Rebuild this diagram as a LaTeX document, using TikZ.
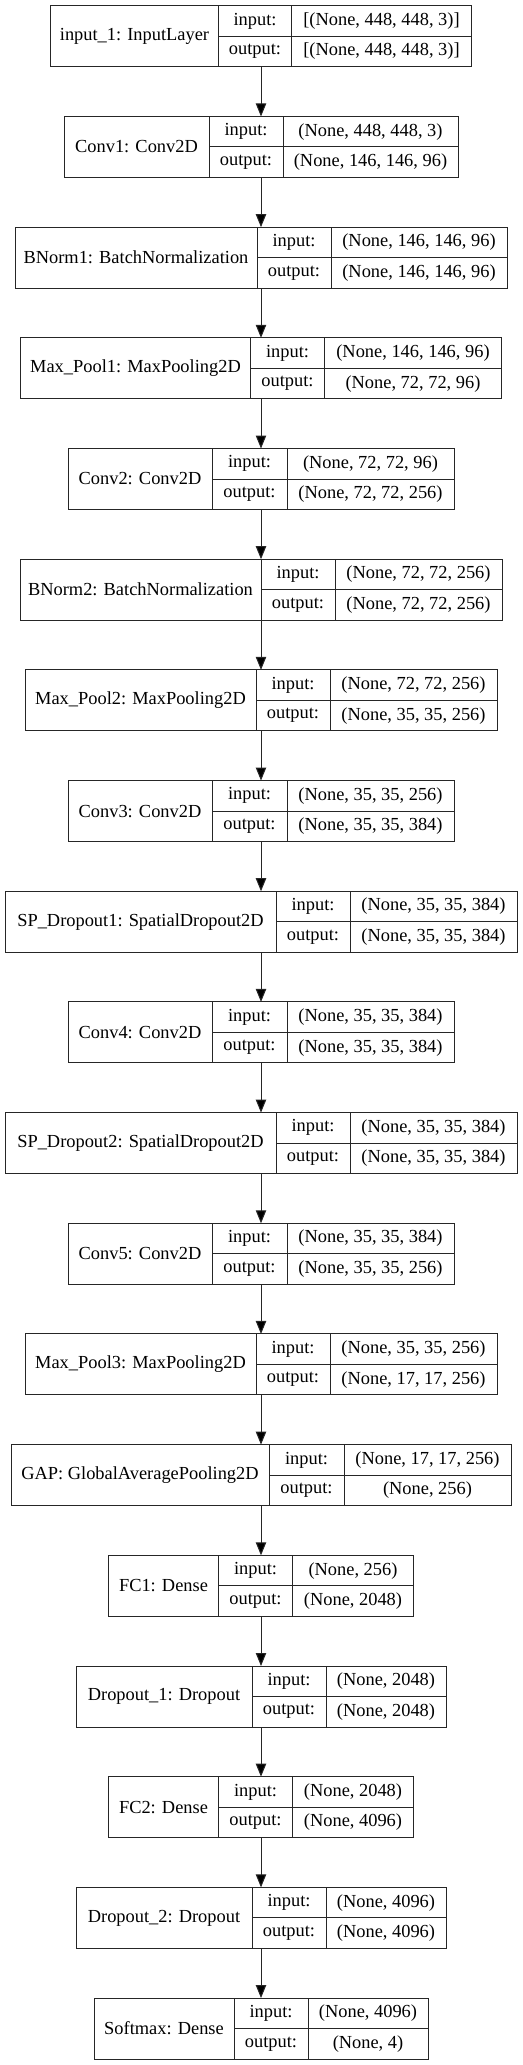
\documentclass[tikz,border=0pt]{standalone}
\usepackage{fontspec}
\setmainfont{Liberation Serif}
\usetikzlibrary{arrows.meta}
\begin{document}
\begin{tikzpicture}[x=0.75pt,y=-0.75pt,
 font=\fontsize{13.8}{16}\selectfont,
 >={Triangle[length=9.75pt,width=7.8pt]},
 line width=0.75pt,
 layer/.style={inner sep=0pt,outer sep=0pt,anchor=north west,minimum height=45.75pt},
 cell/.style={layer,draw=black!85,minimum height=#1},
 cell/.default=22.875pt]

  \useasboundingbox (0,0) rectangle (523,2065);

  % name / cell widths (px) / input / output
  \foreach \n/\lbl/\wa/\wb/\wc/\vin/\vout [count=\i from 0] in {
   input/{input\_1: InputLayer}/168/73/180/{[(None, 448, 448, 3)]}/{[(None, 448, 448, 3)]},
   conv1/{Conv1: Conv2D}/145/74/175/{(None, 448, 448, 3)}/{(None, 146, 146, 96)},
   bnorm1/{BNorm1: BatchNormalization}/242/74/176/{(None, 146, 146, 96)}/{(None, 146, 146, 96)},
   pool1/{Max\_Pool1: MaxPooling2D}/230/74/177/{(None, 146, 146, 96)}/{(None, 72, 72, 96)},
   conv2/{Conv2: Conv2D}/144/75/167/{(None, 72, 72, 96)}/{(None, 72, 72, 256)},
   bnorm2/{BNorm2: BatchNormalization}/241/74/167/{(None, 72, 72, 256)}/{(None, 72, 72, 256)},
   pool2/{Max\_Pool2: MaxPooling2D}/231/74/167/{(None, 72, 72, 256)}/{(None, 35, 35, 256)},
   conv3/{Conv3: Conv2D}/144/75/167/{(None, 35, 35, 256)}/{(None, 35, 35, 384)},
   spdrop1/{SP\_Dropout1: SpatialDropout2D}/271/74/167/{(None, 35, 35, 384)}/{(None, 35, 35, 384)},
   conv4/{Conv4: Conv2D}/144/75/167/{(None, 35, 35, 384)}/{(None, 35, 35, 384)},
   spdrop2/{SP\_Dropout2: SpatialDropout2D}/271/74/167/{(None, 35, 35, 384)}/{(None, 35, 35, 384)},
   conv5/{Conv5: Conv2D}/144/75/167/{(None, 35, 35, 384)}/{(None, 35, 35, 256)},
   pool3/{Max\_Pool3: MaxPooling2D}/231/74/167/{(None, 35, 35, 256)}/{(None, 17, 17, 256)},
   gap/{GAP: GlobalAveragePooling2D}/258/75/167/{(None, 17, 17, 256)}/{(None, 256)},
   fc1/{FC1: Dense}/110/74/121/{(None, 256)}/{(None, 2048)},
   drop1/{Dropout\_1: Dropout}/176/74/120/{(None, 2048)}/{(None, 2048)},
   fc2/{FC2: Dense}/110/74/121/{(None, 2048)}/{(None, 4096)},
   drop2/{Dropout\_2: Dropout}/176/74/120/{(None, 4096)}/{(None, 4096)},
   softmax/{Softmax: Dense}/140/74/120/{(None, 4096)}/{(None, 4)}} {
   \pgfmathsetmacro\yt{5.8+110.68*\i}
   \pgfmathsetmacro\xa{261-(\wa+\wb+\wc)/2}
   \pgfmathsetmacro\xb{\xa+\wa}
   \pgfmathsetmacro\xc{\xb+\wb}
   \pgfmathsetmacro\pw{(\wa+\wb+\wc)*0.75}
   \pgfmathsetmacro\pa{\wa*0.75}
   \pgfmathsetmacro\pb{\wb*0.75}
   \pgfmathsetmacro\pc{\wc*0.75}
   \node[layer,minimum width=\pw pt] (\n) at (\xa,\yt) {};
   \node[cell=45.75pt,minimum width=\pa pt] (\n-name) at (\xa,\yt) {\lbl};
   \node[cell,minimum width=\pb pt] (\n-inl) at (\xb,\yt) {input:};
   \node[cell,minimum width=\pc pt] (\n-inv) at (\xc,\yt) {\vin};
   \node[cell,minimum width=\pb pt] (\n-outl) at (\xb,\yt+30.5) {output:};
   \node[cell,minimum width=\pc pt] (\n-outv) at (\xc,\yt+30.5) {\vout};
  }

  \foreach \s/\t in {input/conv1, conv1/bnorm1, bnorm1/pool1, pool1/conv2,
   conv2/bnorm2, bnorm2/pool2, pool2/conv3, conv3/spdrop1, spdrop1/conv4,
   conv4/spdrop2, spdrop2/conv5, conv5/pool3, pool3/gap, gap/fc1, fc1/drop1,
   drop1/fc2, fc2/drop2, drop2/softmax} {
   \path[draw=black!85,->] (\s) edge (\t);}
\end{tikzpicture}
\end{document}
